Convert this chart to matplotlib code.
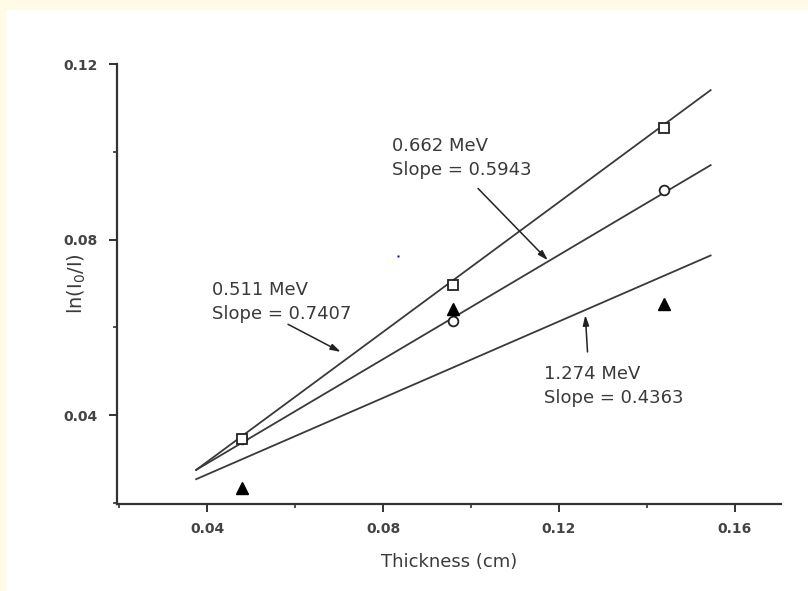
import numpy as np
import matplotlib as mpl; mpl.use("Agg")
import matplotlib.pyplot as plt
from matplotlib.patches import Rectangle
from matplotlib.ticker import MultipleLocator

# ── Data ──────────────────────────────────────────────────────────────────────
thick = [0.048, 0.096, 0.144]                 # cm
ln_511 = [0.0345, 0.0697, 0.1056]             # squares
ln_662 = [0.0345, 0.0615, 0.0913]             # circles
ln_1274 = [0.0234, 0.0643, 0.0654]            # triangles

energies = ["0.511", "0.662", "1.274"]
slopes = [0.7407, 0.5943, 0.4363]
intercepts = [-0.0003, 0.0052, 0.0090]
fit_range = [0.0375, 0.1545]

stray_x, stray_y = [0.0834], [0.0764]         # small blue speck in the scan

INK = "#3a3a3a"
CREAM = "#fffbe6"

fig = plt.figure(figsize=(8.08, 5.91), dpi=100, facecolor=CREAM)
fig.patches.append(Rectangle((6 / 808, 0), 1, 1 - 10 / 591, transform=fig.transFigure,
                             fc="white", ec="none", zorder=-10))
ax = fig.add_axes([117 / 808, 1 - 504 / 591, (781 - 117) / 808, (504 - 64) / 591])
ax.set_facecolor("none")

# fitted lines
xf = np.linspace(*fit_range, 2)
for m, b in zip(slopes, intercepts):
    ax.plot(xf, m * xf + b, color=INK, lw=1.3, zorder=2)

ax.plot(thick, ln_511, ls="none", marker="s", ms=7, mfc="white", mec="#222", mew=1.3, zorder=4)
ax.plot(thick, ln_662, ls="none", marker="o", ms=7, mfc="white", mec="#222", mew=1.3, zorder=3)
ax.plot(thick, ln_1274, ls="none", marker="^", ms=8, mfc="black", mec="black", zorder=4)
ax.plot(stray_x, stray_y, ls="none", marker="s", ms=1.5, mfc="blue", mec="none")

# annotations
txt = dict(fontsize=13, color=INK, family="DejaVu Sans", linespacing=1.45)
arr = dict(arrowstyle="-|>,head_length=0.6,head_width=0.18", color="#222", lw=1.1,
           shrinkA=0, shrinkB=0)
ax.text(0.082, 0.0986, f"{energies[1]} MeV\nSlope = {slopes[1]:.4f}", va="center", **txt)
ax.annotate("", xy=(0.1175, 0.0753), xytext=(0.1016, 0.0917), arrowprops=arr)

ax.text(0.0412, 0.0658, f"{energies[0]} MeV\nSlope = {slopes[0]:.4f}", va="center", **txt)
ax.annotate("", xy=(0.0704, 0.0544), xytext=(0.0584, 0.0607), arrowprops=arr)

ax.text(0.1165, 0.0466, f"{energies[2]} MeV\nSlope = {slopes[2]:.4f}", va="center", **txt)
ax.annotate("", xy=(0.1260, 0.0628), xytext=(0.1265, 0.0544), arrowprops=arr)

# axes styling
ax.set_xlim(0.0195, 0.1705)
ax.set_ylim(0.0197, 0.1201)
for s in ("top", "right"):
    ax.spines[s].set_visible(False)
for s in ("left", "bottom"):
    ax.spines[s].set_linewidth(1.6)
    ax.spines[s].set_color("#333")
ax.spines["left"].set_bounds(0.0197, 0.12)

ax.xaxis.set_minor_locator(MultipleLocator(0.02))
ax.yaxis.set_minor_locator(MultipleLocator(0.02))
ax.set_xticks([0.04, 0.08, 0.12, 0.16])
ax.set_yticks([0.04, 0.08, 0.12])
ax.set_xticklabels(["0.04", "0.08", "0.12", "0.16"])
ax.set_yticklabels(["0.04", "0.08", "0.12"])
ax.tick_params(which="major", direction="out", length=6, width=1.4, color="#333",
               labelsize=10, labelcolor="#444", pad=8)
ax.tick_params(axis="x", which="major", pad=7)
ax.tick_params(which="minor", direction="out", length=3, width=1.2, color="#333")
for lab in ax.get_xticklabels() + ax.get_yticklabels():
    lab.set_fontweight("bold")

ax.set_xlabel("Thickness (cm)", fontsize=13, color=INK, labelpad=12)
ax.set_ylabel(r"ln(I$_0$/I)", fontsize=14, color=INK)
ax.yaxis.set_label_coords(-0.044, 0.5)

fig.savefig("out.png", dpi=100, facecolor=fig.get_facecolor())
